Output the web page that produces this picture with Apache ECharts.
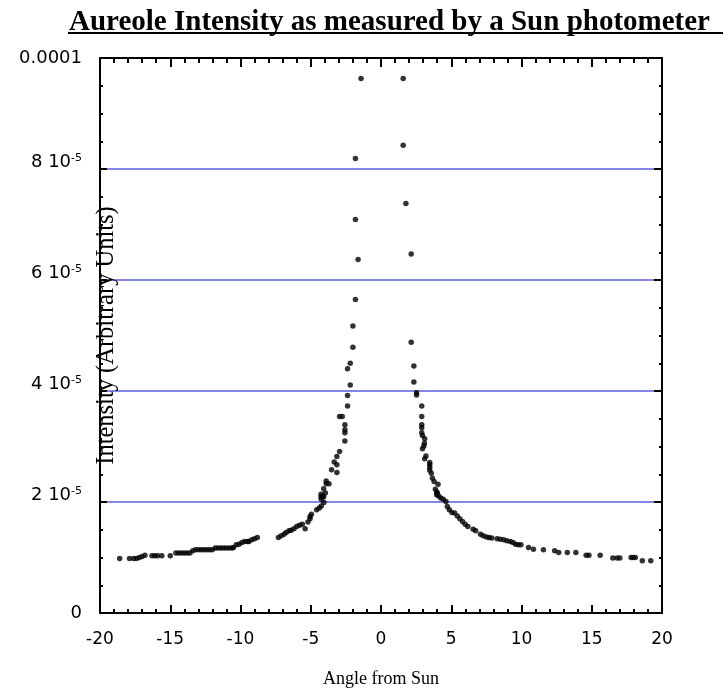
<!DOCTYPE html>
<html>
<head>
<meta charset="utf-8">
<script src="https://cdn.jsdelivr.net/npm/echarts@6/dist/echarts.min.js"></script>
<style>
  html, body { margin: 0; padding: 0; background: #fff; }
  #chart { width: 723px; height: 691px; }
</style>
</head>
<body>
<div id="chart"></div>
<script>
// angle from sun (deg) and intensity (units of 1e-5)
const angle = [
  -18.6, -17.9, -17.6, -17.4, -17.2, -17.0, -16.8, -16.3, -16.1, -15.9, -15.6, -15.0,
  -14.6, -14.4, -14.2, -14.0, -13.8, -13.6, -13.4,
  -13.2, -13.0, -12.8, -12.6, -12.4, -12.2, -12.0,
  -11.8, -11.6, -11.4, -11.2, -11.0, -10.8, -10.6, -10.5,
  -10.3, -10.1, -9.9, -9.7, -9.5, -9.4, -9.2, -9.0, -8.8,
  -7.3, -7.1, -6.9, -6.75, -6.55, -6.4, -6.2, -6.0, -5.8, -5.6, -5.4,
  -5.2, -5.05, -5.05, -4.95, -4.58, -4.39, -4.25, -4.06, -4.25, -4.15, -3.96,
  -4.27, -4.08, -4.27, -4.08, -3.9, -3.9, -3.7,
  -3.52, -3.14, -3.33, -3.14, -3.14, -2.95, -2.57, -2.57, -2.57, -2.57,
  -2.95, -2.76, -2.38, -2.38, -2.19, -2.38, -2.19, -2.0, -2.0,
  -1.82, -1.63, -1.82, -1.82, -1.42,
  1.58, 1.58, 1.77, 2.15, 2.15, 2.34, 2.34, 2.53, 2.53,
  2.9, 2.9, 2.9, 2.9, 2.9, 2.95, 3.11, 3.09, 3.05, 2.95, 3.2, 3.11,
  3.47, 3.47, 3.47, 3.47, 3.58, 3.66, 3.78, 4.06, 3.87, 3.96, 3.96,
  4.01, 4.1, 4.25, 4.43, 4.62, 4.72, 4.86,
  5.05, 5.24, 5.43, 5.61, 5.8, 5.99, 6.18, 6.56, 6.74,
  7.08, 7.27, 7.5, 7.69, 7.88, 8.26, 8.49, 8.73, 8.96, 9.2, 9.39, 9.58, 9.77, 9.96,
  10.5, 10.85, 11.56, 12.36, 12.65, 13.26, 13.87,
  14.6, 14.8, 15.6, 16.5, 16.8, 17.0, 17.8, 17.95, 18.1, 18.6, 19.2
];
const intensity = [
  0.98, 0.98, 0.98, 0.98, 1.00, 1.02, 1.04, 1.03, 1.03, 1.03, 1.03, 1.03,
  1.08, 1.08, 1.08, 1.08, 1.08, 1.08, 1.12,
  1.14, 1.14, 1.14, 1.14, 1.14, 1.14, 1.14,
  1.17, 1.17, 1.17, 1.17, 1.17, 1.17, 1.17, 1.18,
  1.23, 1.24, 1.27, 1.29, 1.29, 1.29, 1.32, 1.34, 1.36,
  1.36, 1.39, 1.42, 1.45, 1.48, 1.49, 1.52, 1.56, 1.58, 1.60, 1.52,
  1.64, 1.70, 1.74, 1.78, 1.86, 1.89, 1.93, 1.99, 2.05, 2.11, 2.16,
  2.14, 2.09, 2.09, 2.24, 2.38, 2.33, 2.33,
  2.58, 2.53, 2.72, 2.67, 2.82, 2.91, 3.10, 3.39, 3.30, 3.25,
  3.54, 3.54, 3.73, 3.92, 4.11, 4.40, 4.50, 4.79, 5.17,
  5.65, 6.37, 7.09, 8.19, 9.63,
  9.63, 8.43, 7.38, 6.47, 4.88, 4.45, 4.16, 3.97, 3.93,
  3.73, 3.54, 3.39, 3.34, 3.25, 3.20, 3.14, 3.06, 3.01, 2.96, 2.83, 2.78,
  2.71, 2.67, 2.62, 2.57, 2.52, 2.43, 2.37, 2.32, 2.23, 2.18, 2.13,
  2.16, 2.11, 2.07, 2.05, 2.01, 1.92, 1.86,
  1.81, 1.80, 1.75, 1.70, 1.65, 1.60, 1.56, 1.51, 1.48,
  1.42, 1.39, 1.37, 1.36, 1.35, 1.34, 1.33, 1.32, 1.30, 1.29, 1.27, 1.24, 1.23, 1.23,
  1.18, 1.15, 1.14, 1.12, 1.09, 1.09, 1.09,
  1.04, 1.04, 1.04, 0.99, 0.99, 0.99, 1.00, 1.00, 1.00, 0.94, 0.94
];
const yTickValues = [0, 2, 4, 6, 8, 10];
const yTickLabels = ['0', '2 10^-5', '4 10^-5', '6 10^-5', '8 10^-5', '0.0001'];

const points = angle.map((a, i) => [a, intensity[i]]);

const labelFont = 'DejaVu Sans';
const serifFont = 'Liberation Serif';

function yLabel(value) {
  const idx = yTickValues.indexOf(Math.round(value * 1000) / 1000);
  if (idx < 0) return '';
  const parts = yTickLabels[idx].split('^');
  if (parts.length === 1) return '{n|' + parts[0] + '}';
  return '{n|' + parts[0] + '}{s|' + parts[1] + '}\n{g| }';
}

const chart = echarts.init(document.getElementById('chart'), null, { renderer: 'canvas' });

const option = {
  animation: false,
  backgroundColor: '#fff',
  title: {
    text: 'Aureole Intensity as measured by a Sun photometer',
    left: 64,
    top: 3,
    textStyle: {
      fontFamily: serifFont,
      fontWeight: 'bold',
      fontSize: 29,
      color: '#000'
    }
  },
  graphic: [
    {
      type: 'line',
      shape: { x1: 68, y1: 33, x2: 723, y2: 33 },
      style: { stroke: '#000', lineWidth: 2 }
    }
  ],
  grid: {
    left: 100,
    right: 61,
    top: 58,
    bottom: 78,
    containLabel: false,
    outerBoundsMode: 'none'
  },
  xAxis: [
    {
      type: 'value',
      min: -20,
      max: 20,
      interval: 5,
      position: 'bottom',
      name: 'Angle from Sun',
      nameLocation: 'middle',
      nameGap: 57,
      nameMoveOverlap: false,
      nameTextStyle: { fontFamily: serifFont, fontSize: 18, color: '#000' },
      axisLine: { onZero: false, lineStyle: { color: '#000', width: 2 } },
      axisTick: { inside: true, length: 8, lineStyle: { color: '#000', width: 2 } },
      minorTick: { show: true, splitNumber: 5, length: 4, lineStyle: { color: '#000', width: 2 } },
      axisLabel: {
        margin: 18,
        showMinLabel: true,
        showMaxLabel: true,
        fontFamily: labelFont,
        fontSize: 17,
        color: '#000'
      },
      splitLine: { show: false }
    },
    {
      type: 'value',
      min: -20,
      max: 20,
      interval: 5,
      position: 'top',
      axisLine: { onZero: false, lineStyle: { color: '#000', width: 2 } },
      axisTick: { inside: true, length: 9, lineStyle: { color: '#000', width: 2 } },
      minorTick: { show: true, splitNumber: 5, length: 5, lineStyle: { color: '#000', width: 2 } },
      axisLabel: { show: false },
      splitLine: { show: false }
    }
  ],
  yAxis: [
    {
      type: 'value',
      min: 0,
      max: 10,
      interval: 2,
      position: 'left',
      name: 'Intensity (Arbitrary Units)',
      nameLocation: 'middle',
      nameGap: -19,
      nameMoveOverlap: false,
      nameTextStyle: { fontFamily: serifFont, fontSize: 24.5, color: '#000' },
      axisLine: { onZero: false, lineStyle: { color: '#000', width: 2 } },
      axisTick: { inside: true, length: 7, lineStyle: { color: '#000', width: 2 } },
      minorTick: { show: true, splitNumber: 4, length: 3, lineStyle: { color: '#000', width: 2 } },
      axisLabel: {
        margin: 18,
        showMinLabel: true,
        showMaxLabel: true,
        color: '#000',
        formatter: yLabel,
        rich: {
          n: { fontFamily: labelFont, fontSize: 18, color: '#000', lineHeight: 18, verticalAlign: 'bottom' },
          s: { fontFamily: labelFont, fontSize: 11, color: '#000', lineHeight: 18, verticalAlign: 'top' },
          g: { fontSize: 10, lineHeight: 14 }
        }
      },
      splitLine: {
        show: true,
        showMinLine: false,
        showMaxLine: false,
        lineStyle: { color: '#8585e6', width: 2 }
      }
    },
    {
      type: 'value',
      min: 0,
      max: 10,
      interval: 2,
      position: 'right',
      axisLine: { onZero: false, lineStyle: { color: '#000', width: 2 } },
      axisTick: { inside: true, length: 8, lineStyle: { color: '#000', width: 2 } },
      minorTick: { show: true, splitNumber: 4, length: 3, lineStyle: { color: '#000', width: 2 } },
      axisLabel: { show: false },
      splitLine: { show: false }
    }
  ],
  series: [
    {
      type: 'scatter',
      xAxisIndex: 0,
      yAxisIndex: 0,
      data: points,
      symbol: 'circle',
      symbolSize: 5.5,
      itemStyle: { color: '#000' },
      z: 5
    }
  ]
};

chart.setOption(option);
</script>
</body>
</html>
